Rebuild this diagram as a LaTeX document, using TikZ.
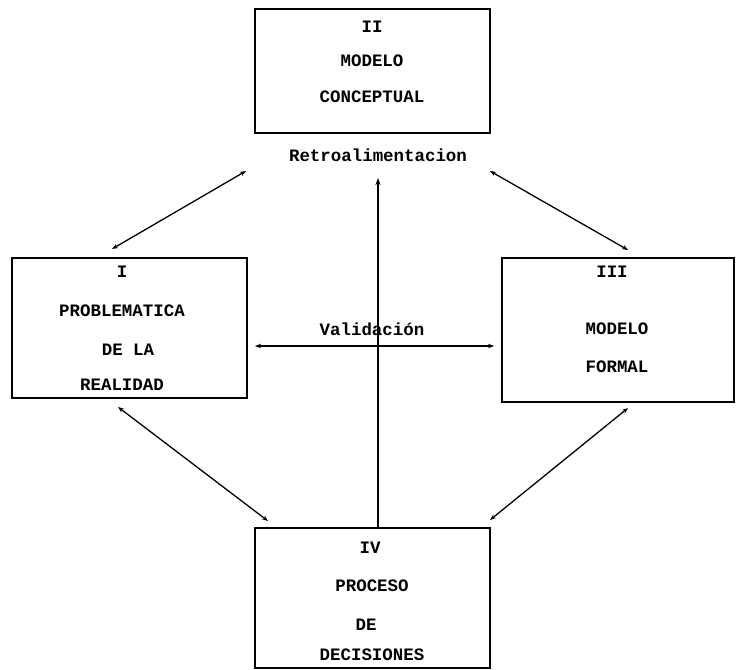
\documentclass[tikz,border=0pt]{standalone}
\usepackage{fontspec}
\setmonofont{Liberation Mono}
\usetikzlibrary{arrows.meta}
\begin{document}
\begin{tikzpicture}[x=1bp,y=-1bp,
  box/.style={draw, line width=1.8bp, minimum width=#1, inner sep=0pt},
  txt/.style={font=\ttfamily\bfseries\fontsize{17.5}{19}\selectfont, inner sep=0pt, anchor=center},
  link/.style={line width=1.3bp, {Stealth[length=6bp,width=4.5bp]}-{Stealth[length=6bp,width=4.5bp]}},
  feed/.style={line width=2.2bp, -{Stealth[length=7bp,width=5bp]}}]
\useasboundingbox (0,0) rectangle (736,670);

% the four blocks
\node[box=235bp, minimum height=124bp] (b2) at (372.5,71) {};
\node[box=235bp, minimum height=140bp] (b1) at (129.5,328) {};
\node[box=232bp, minimum height=144bp] (b3) at (618,330) {};
\node[box=235bp, minimum height=140bp] (b4) at (372.5,598) {};

% block texts
\node[txt] (t2a) at (372,27) {II};
\node[txt] (t2b) at (372,61) {MODELO};
\node[txt] (t2c) at (372,97) {CONCEPTUAL};

\node[txt] (t1a) at (122,272) {I};
\node[txt] (t1b) at (122,311) {PROBLEMATICA};
\node[txt] (t1c) at (128,350) {DE LA};
\node[txt] (t1d) at (122,385) {REALIDAD};

\node[txt] (t3a) at (612,272) {III};
\node[txt] (t3b) at (617,329) {MODELO};
\node[txt] (t3c) at (617,367) {FORMAL};

\node[txt] (t4a) at (370,548) {IV};
\node[txt] (t4b) at (372,586) {PROCESO};
\node[txt] (t4c) at (366,625) {DE};
\node[txt] (t4d) at (372,655) {DECISIONES};

% labels
\node[txt] (retro) at (378,155) {Retroalimentacion};
\node[txt] (valid) at (372,329) {Validación};

% connector ends
\coordinate (c12a) at (112,249);
\coordinate (c12b) at (246,171);
\coordinate (c23a) at (490,171);
\coordinate (c23b) at (628,250);
\coordinate (c14a) at (118,407);
\coordinate (c14b) at (268,521);
\coordinate (c34a) at (628,408);
\coordinate (c34b) at (490,520);
\coordinate (vl) at (255,346);
\coordinate (vr) at (494,346);
\coordinate (fb) at (378,178);

\draw[link] (c12a) -- (c12b);
\draw[link] (c23a) -- (c23b);
\draw[link] (c14a) -- (c14b);
\draw[link] (c34a) -- (c34b);
\draw[link] (vl) -- (vr);
\draw[feed] (b4.north -| fb) -- (fb);
\end{tikzpicture}
\end{document}
